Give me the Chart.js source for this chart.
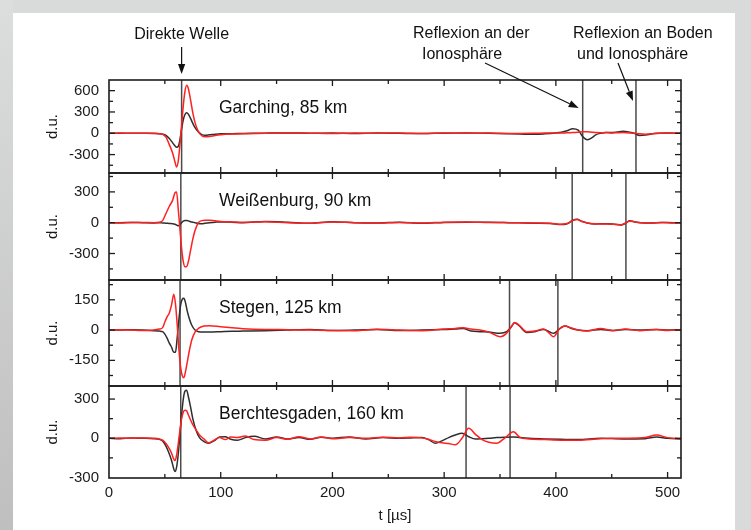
<!DOCTYPE html>
<html>
<head>
<meta charset="utf-8">
<script src="https://cdn.jsdelivr.net/npm/chart.js@4.4.1/dist/chart.umd.min.js"></script>
<style>
html,body{margin:0;padding:0;width:751px;height:530px;overflow:hidden;background:#d9dbda;position:relative;}
#leftstrip{position:absolute;left:0;top:0;width:13px;height:530px;background:linear-gradient(#dcdddd,#bfbfbf);}
#frame{position:absolute;left:13px;top:13px;width:722px;height:517px;background:#fff;}
canvas{display:block;}
</style>
</head>
<body>
<div id="leftstrip"></div>
<div id="frame"></div>
<script>
// ---------------- data ----------------
const stations = ['Garching, 85 km', 'Weißenburg, 90 km', 'Stegen, 125 km', 'Berchtesgaden, 160 km'];

const xMajor = [0, 100, 200, 300, 400, 500];
const xMinor = [50, 150, 250, 350, 450];
const xMax = 512;

const yRanges = [[-559, 750], [-558, 484], [-277, 248], [-304, 400]];
const yLabels = [[600, 300, 0, -300], [300, 0, -300], [150, 0, -150], [300, 0, -300]];
const yMinor = [[-450, -150, 150, 450], [-450, -150, 150, 450], [-225, -75, 75, 225], [-150, 150]];

const directWave = [65, 64.3, 63.6, 64.2];
const reflections = [[424, 471.7], [414.6, 462.7], [358.5, 401.8], [319.6, 359]];

// Garching
const t1 = [0,10,20,30,40,45,48,51,54,57,59,60.5,62,63.5,65,66.5,68,69.5,71,73,75,77,80,83,86,90,95,100,110,120,140,160,180,200,220,240,260,280,300,320,340,360,380,390,400,405,410,415,420,424,428,432,436,440,445,450,455,460,465,470,475,480,490,500,512];
const black1 = [0,0,2,0,-2,-5,-12,-30,-75,-135,-175,-195,-185,-90,60,190,265,290,270,210,140,80,20,-18,-28,-22,-14,-8,-5,-3,2,5,0,4,-3,5,0,-4,2,5,0,-5,-15,-8,5,15,35,65,45,-45,-92,-65,-20,0,12,10,18,28,20,0,-30,-25,0,4,0];
const red1 = [0,3,0,2,0,-5,-15,-55,-160,-280,-400,-475,-390,-160,110,390,590,675,630,470,290,150,25,-35,-50,-45,-30,-20,-10,-5,0,6,2,-3,4,0,5,-2,3,0,4,-3,0,3,5,3,8,10,15,20,20,15,10,8,10,5,8,10,5,0,-8,-12,-3,5,0];

// Weißenburg
const t2 = [0,10,20,30,40,45,48,51,54,57,59,60.5,62,63.5,65,66.5,68,69.5,71,73,75,77,80,83,86,90,95,100,110,120,140,160,180,200,220,240,260,280,300,320,340,360,380,395,405,410,415,419,423,428,435,445,452,458,462,466,470,476,485,495,505,512];
const black2 = [0,0,3,0,-2,0,-3,-5,-8,-10,-15,-22,-30,-20,0,15,22,22,18,10,5,0,-8,-10,-5,0,5,8,5,0,12,5,-5,10,0,-3,5,-5,3,5,5,0,-5,-8,-18,-10,22,33,15,-2,-12,-10,-15,-22,-8,20,10,0,-3,3,0,0];
const red2 = [0,-3,2,3,0,5,20,90,160,220,290,300,130,-60,-250,-380,-430,-428,-380,-270,-160,-75,0,20,25,25,18,12,8,5,10,0,-5,8,0,-5,3,-3,5,8,3,0,-3,-5,-15,-8,20,30,12,-2,-10,-12,-15,-22,-5,15,10,0,-3,3,-2,0];

// Stegen
const t3 = [0,10,20,30,40,45,48,50,52,54,56,58,59.5,61,62.5,64,65.5,67,68.5,70,72,74,77,80,85,90,100,110,120,140,160,180,200,220,240,260,280,300,310,317,324,332,340,350,356,360,363,367,374,381,389,394,398,403,408,414,420,428,440,451,462,475,490,500,512];
const black3 = [0,0,2,0,-3,-5,-8,-20,-40,-65,-85,-110,-110,-40,50,120,152,157,135,95,55,25,0,-8,-10,-10,-8,-6,-5,-3,0,3,-2,0,3,-2,0,3,5,8,-5,-8,-10,-16,-8,15,36,22,-12,-8,3,-8,-16,5,20,8,0,-3,3,-2,3,0,3,0,2];
const red3 = [0,2,0,-2,0,5,12,40,65,85,125,178,130,30,-90,-180,-225,-236,-205,-160,-100,-50,-10,8,20,22,16,11,7,3,2,0,-2,-3,4,0,-3,5,8,12,5,0,-10,-33,-15,15,38,25,-8,-5,5,-15,-33,5,20,10,0,-5,8,-3,5,-3,3,-2,3];

// Berchtesgaden
const t4 = [0,10,20,30,40,45,48,51,54,56,58,59,60.5,62,63.5,65,66.5,68,69.5,71,73,75,78,81,85,89,94,99,104,109,115,122,130,140,150,160,170,180,190,200,215,230,245,260,270,280,286,292,298,304,310,316,322,328,334,340,347,354,362,368,376,390,405,420,440,460,480,490,500,512];
const black4 = [0,-3,2,0,-3,-8,-20,-60,-120,-170,-235,-255,-220,-120,30,180,300,360,368,320,240,150,60,5,-25,-38,-20,10,12,-8,-15,5,15,-5,10,-5,5,-8,8,0,10,-5,5,0,3,5,-10,-38,-20,5,25,38,12,-5,-3,0,5,8,10,5,0,-5,-8,-10,0,-5,-3,10,0,-5];
const red4 = [0,2,0,3,0,-5,-15,-40,-80,-115,-160,-171,-130,-40,60,150,200,215,210,180,140,105,64,25,-5,-35,-15,5,-10,10,5,18,-10,-15,5,-8,12,-5,10,-3,5,0,8,3,8,3,-8,-25,-35,-40,-50,0,76,30,-10,-30,-38,0,50,5,-5,-10,-15,-15,-3,0,5,25,5,-3];

const T = [t1, t2, t3, t4];
const B = [black1, black2, black3, black4];
const R = [red1, red2, red3, red4];

// ---------------- layout / style ----------------
const FONT = '"Liberation Sans", Arial, Helvetica, sans-serif';
const panelBox = [[80, 173], [173, 280], [280, 386], [386, 478]];
const frameColor = '#1c1c1c';
const markerColor = '#4a4a4a';

function toXY(t, v) { return t.map((x, k) => ({ x: x, y: v[k] })); }

function seg(ctx, x1, y1, x2, y2) { ctx.beginPath(); ctx.moveTo(x1, y1); ctx.lineTo(x2, y2); ctx.stroke(); }

function arrow(ctx, x1, y1, x2, y2) {
  const ang = Math.atan2(y2 - y1, x2 - x1);
  const L = 10, W = 3.6;
  const bx = x2 - L * Math.cos(ang), by = y2 - L * Math.sin(ang);
  seg(ctx, x1, y1, bx, by);
  ctx.beginPath();
  ctx.moveTo(x2, y2);
  ctx.lineTo(bx + W * Math.sin(ang), by - W * Math.cos(ang));
  ctx.lineTo(bx - W * Math.sin(ang), by + W * Math.cos(ang));
  ctx.closePath();
  ctx.fill();
}

function noPad(s) { s.paddingTop = 0; s.paddingBottom = 0; s.paddingLeft = 0; s.paddingRight = 0; }

const panelPlugin = {
  id: 'panel',
  beforeDatasetsDraw(chart, args, opts) {
    const { ctx, chartArea: a } = chart;
    const x = chart.scales.x;
    ctx.save();
    ctx.strokeStyle = markerColor;
    ctx.lineWidth = 1.5;
    opts.markers.forEach(v => {
      const px = x.getPixelForValue(v);
      seg(ctx, px, a.top, px, a.bottom);
    });
    ctx.restore();
  },
  afterDatasetsDraw(chart, args, opts) {
    const { ctx, chartArea: a } = chart;
    const x = chart.scales.x, y = chart.scales.y;
    ctx.save();
    ctx.strokeStyle = frameColor;
    ctx.lineWidth = 1.6;
    ctx.strokeRect(a.left, a.top, a.right - a.left, a.bottom - a.top);
    ctx.lineWidth = 1.3;
    const xt = (vals, len) => vals.forEach(v => {
      const px = x.getPixelForValue(v);
      if (px <= a.left + 1 || px >= a.right - 1) return;
      seg(ctx, px, a.top, px, a.top + len);
      seg(ctx, px, a.bottom, px, a.bottom - len);
    });
    xt(xMajor, 6); xt(xMinor, 4);
    const yt = (vals, len) => vals.forEach(v => {
      const py = y.getPixelForValue(v);
      if (py <= a.top + 1 || py >= a.bottom - 1) return;
      seg(ctx, a.left, py, a.left + len, py);
      seg(ctx, a.right, py, a.right - len, py);
    });
    yt(opts.majors, 6); yt(opts.minors, 4);
    ctx.fillStyle = '#111';
    ctx.font = '17.5px ' + FONT;
    ctx.textBaseline = 'alphabetic';
    ctx.textAlign = 'left';
    ctx.fillText(opts.name, a.left + 110, a.top + 33);
    ctx.restore();
  },
  afterDraw(chart, args, opts) {
    if (!opts.annotate) return;
    const { ctx, chartArea: a } = chart;
    const x = chart.scales.x;
    ctx.save();
    ctx.fillStyle = '#111';
    ctx.strokeStyle = '#111';
    ctx.lineWidth = 1.2;
    ctx.font = '16px ' + FONT;
    ctx.textBaseline = 'alphabetic';
    const dx = x.getPixelForValue(directWave[0]);
    ctx.textAlign = 'center';
    ctx.fillText('Direkte Welle', dx, 39);
    ctx.textAlign = 'left';
    ctx.fillText('Reflexion an der', 413, 38);
    ctx.fillText('Ionosphäre', 422, 58.5);
    ctx.fillText('Reflexion an Boden', 573, 38);
    ctx.fillText('und Ionosphäre', 577, 58.5);
    arrow(ctx, dx, 47, dx, a.top - 6);
    const r1 = x.getPixelForValue(reflections[0][0]);
    const r2 = x.getPixelForValue(reflections[0][1]);
    arrow(ctx, 485, 63, r1 - 4, a.top + 28);
    arrow(ctx, 618, 63, r2 - 3, a.top + 21);
    ctx.restore();
  }
};

for (let i = 0; i < 4; i++) {
  const top = panelBox[i][0], bot = panelBox[i][1];
  const pt = i === 0 ? top : 4;
  const pb = i === 3 ? 0 : 4;
  const ctop = top - pt;
  const ch = (i === 3 ? 530 : bot + pb) - ctop;
  const cv = document.createElement('canvas');
  cv.width = 751; cv.height = ch;
  cv.style.cssText = 'position:absolute;left:0;top:' + ctop + 'px;width:751px;height:' + ch + 'px;';
  document.body.appendChild(cv);
  const last = i === 3;
  new Chart(cv, {
    type: 'line',
    data: {
      datasets: [
        { label: 'rot', data: toXY(T[i], R[i]), borderColor: '#ff2020', borderWidth: 1.5, pointRadius: 0, fill: false, cubicInterpolationMode: 'monotone' },
        { label: 'schwarz', data: toXY(T[i], B[i]), borderColor: '#2e2e2e', borderWidth: 1.5, pointRadius: 0, fill: false, cubicInterpolationMode: 'monotone' }
      ]
    },
    options: {
      responsive: false,
      animation: false,
      devicePixelRatio: 1,
      events: [],
      layout: { padding: { left: 0, right: 70, top: pt, bottom: pb } },
      plugins: {
        legend: { display: false },
        tooltip: { enabled: false },
        panel: { markers: [directWave[i]].concat(reflections[i]), majors: yLabels[i], minors: yMinor[i], name: stations[i], annotate: i === 0 }
      },
      scales: {
        x: {
          type: 'linear', min: 0, max: xMax, display: last,
          grid: { display: false, drawTicks: false },
          border: { display: false },
          afterBuildTicks: s => { s.ticks = xMajor.map(v => ({ value: v })); },
          afterFit: s => { noPad(s); if (last) s.height = 530 - bot; },
          ticks: { autoSkip: false, maxRotation: 0, padding: 6, color: '#1a1a1a', font: { family: FONT, size: 15 } },
          title: { display: last, text: 't [µs]', color: '#1a1a1a', font: { family: FONT, size: 15 }, padding: { top: 0, bottom: 5 } }
        },
        y: {
          type: 'linear', min: yRanges[i][0], max: yRanges[i][1],
          grid: { display: false, drawTicks: false },
          border: { display: false },
          afterBuildTicks: (idx => s => { s.ticks = yLabels[idx].map(v => ({ value: v })); })(i),
          afterFit: s => { noPad(s); s.width = 109; },
          ticks: { autoSkip: false, padding: 10, color: '#1a1a1a', font: { family: FONT, size: 15 } },
          title: { display: true, text: 'd.u.', color: '#1a1a1a', font: { family: FONT, size: 15 }, padding: { top: 44, bottom: 0 } }
        }
      }
    },
    plugins: [panelPlugin]
  });
}
</script>
</body>
</html>
